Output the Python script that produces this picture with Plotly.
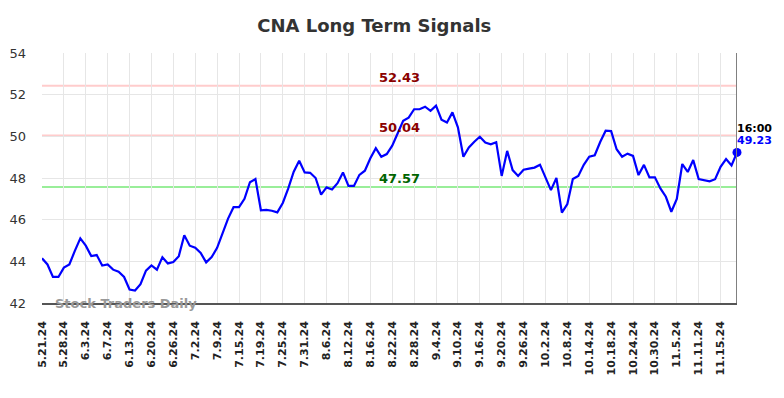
import plotly.graph_objects as go

title_text = "CNA Long Term Signals"

tick_labels = ["5.21.24", "5.28.24", "6.3.24", "6.7.24", "6.13.24", "6.20.24", "6.26.24",
               "7.2.24", "7.9.24", "7.15.24", "7.19.24", "7.25.24", "7.31.24", "8.6.24",
               "8.12.24", "8.16.24", "8.22.24", "8.28.24", "9.4.24", "9.10.24", "9.16.24",
               "9.20.24", "9.26.24", "10.2.24", "10.8.24", "10.14.24", "10.18.24",
               "10.24.24", "10.30.24", "11.5.24", "11.11.24", "11.15.24"]
tick_step = 4

prices = [
    44.15, 43.85, 43.25, 43.25, 43.70, 43.85, 44.50, 45.10, 44.75, 44.25,
    44.30, 43.80, 43.85, 43.60, 43.50, 43.25, 42.65, 42.60, 42.90, 43.55,
    43.80, 43.60, 44.20, 43.90, 43.97, 44.25, 45.25, 44.75, 44.65, 44.40,
    43.95, 44.20, 44.65, 45.35, 46.05, 46.60, 46.60, 47.00, 47.80, 47.95,
    46.45, 46.47, 46.43, 46.35, 46.80, 47.50, 48.30, 48.83, 48.27, 48.25,
    48.00, 47.20, 47.55, 47.45, 47.75, 48.27, 47.62, 47.62, 48.15, 48.35,
    48.95, 49.43, 49.02, 49.15, 49.55, 50.15, 50.75, 50.90, 51.30, 51.30,
    51.42, 51.22, 51.47, 50.80, 50.66, 51.15, 50.43, 49.02, 49.47, 49.74,
    49.98, 49.70, 49.62, 49.72, 48.10, 49.30, 48.38, 48.10, 48.40, 48.45,
    48.50, 48.64, 48.06, 47.42, 48.00, 46.34, 46.75, 47.95, 48.10, 48.63,
    49.02, 49.09, 49.73, 50.27, 50.25, 49.38, 49.02, 49.17, 49.06, 48.14,
    48.63, 48.03, 48.03, 47.50, 47.10, 46.38, 47.00, 48.67, 48.29, 48.86,
    47.95, 47.90, 47.84, 47.94, 48.54, 48.91, 48.60, 49.23,
]

resistance_levels = [52.43, 50.04]
support_levels = [47.57]
last_time_label = "16:00"
watermark = "Stock Traders Daily"
y_ticks = [42, 44, 46, 48, 50, 52, 54]

x_idx = list(range(len(prices)))
tick_vals = [i * tick_step for i in range(len(tick_labels))]
last_i = len(prices) - 1

fig = go.Figure()

fig.add_trace(go.Scatter(x=x_idx, y=prices, mode="lines",
                         line=dict(color="#0000ff", width=2.2),
                         hoverinfo="skip", showlegend=False))
fig.add_trace(go.Scatter(x=[last_i], y=[prices[-1]], mode="markers",
                         marker=dict(color="#0000ff", size=9),
                         cliponaxis=False, showlegend=False))

for lv in resistance_levels:
    fig.add_hline(y=lv, line=dict(color="#ffcccc", width=2), layer="below")
    fig.add_annotation(x=0.514, xref="paper", y=lv, yref="y", text=f"<b>{lv:.2f}</b>",
                       showarrow=False, yanchor="middle", yshift=8,
                       font=dict(family="DejaVu Sans", size=13, color="#8b0000"))
for lv in support_levels:
    fig.add_hline(y=lv, line=dict(color="#99ee99", width=2), layer="below")
    fig.add_annotation(x=0.514, xref="paper", y=lv, yref="y", text=f"<b>{lv:.2f}</b>",
                       showarrow=False, yanchor="middle", yshift=8,
                       font=dict(family="DejaVu Sans", size=13, color="#006400"))

# right edge marker line
fig.add_shape(type="line", x0=last_i, x1=last_i, y0=0, y1=1, xref="x", yref="paper",
              line=dict(color="#808080", width=2))

fig.add_annotation(x=last_i, y=prices[-1], text=f"<b>{last_time_label}</b>", showarrow=False,
                   xanchor="left", yanchor="middle", yshift=24, xshift=-2,
                   font=dict(family="DejaVu Sans", size=11, color="#000000"))
fig.add_annotation(x=last_i, y=prices[-1], text=f"<b>{prices[-1]:.2f}</b>", showarrow=False,
                   xanchor="left", yanchor="middle", yshift=12, xshift=-2,
                   font=dict(family="DejaVu Sans", size=11, color="#0000ff"))

fig.add_annotation(x=0.016, xref="paper", y=42, yref="y", text=f"<b>{watermark}</b>",
                   showarrow=False, xanchor="left", yanchor="middle",
                   font=dict(family="DejaVu Sans", size=13, color="#999999"))

fig.update_layout(
    width=776, height=390,
    margin=dict(l=34, r=47, t=45, b=95, autoexpand=False),
    paper_bgcolor="white", plot_bgcolor="white",
    title=dict(text=f"<b>{title_text}</b>", x=0.472, xanchor="center", y=0.954, yanchor="middle",
               font=dict(family="DejaVu Sans", size=18, color="#333333")),
    showlegend=False,
)
fig.update_xaxes(range=[0, last_i], tickmode="array", tickvals=tick_vals, ticktext=tick_labels,
                 tickangle=-90, showgrid=True, gridcolor="#e6e6e6", gridwidth=1,
                 showline=True, linecolor="#555555", linewidth=1.5, zeroline=False,
                 ticks="", ticklabelstandoff=12, automargin=False,
                 tickfont=dict(family="DejaVu Sans", size=11, color="#222222", weight="bold"))
fig.update_yaxes(range=[42, 54], tickmode="array", tickvals=y_ticks,
                 showgrid=True, gridcolor="#e6e6e6", gridwidth=1, zeroline=False,
                 showline=False, ticks="", ticklabelstandoff=15, automargin=False,
                 tickfont=dict(family="DejaVu Sans", size=13, color="#333333"))

fig.write_html("out.html")
